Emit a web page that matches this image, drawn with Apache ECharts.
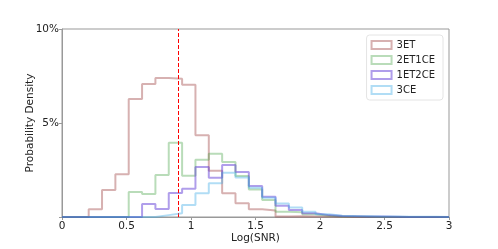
<!DOCTYPE html>
<html>
<head>
<meta charset="utf-8">
<script src="https://cdn.jsdelivr.net/npm/echarts@6/dist/echarts.min.js"></script>
<style>
html,body{margin:0;padding:0;background:#fff;}
#chart{width:498px;height:249px;}
</style>
</head>
<body>
<div id="chart"></div>
<script>
// Histogram: 29 bins spanning Log(SNR) 0..3; values are % probability density per bin
const binCount = 29;
const xMin = 0, xMax = 3;
const seriesNames = ['3ET', '2ET1CE', '1ET2CE', '3CE'];
const vals3ET =    [0,0,0.41,1.44,2.27,6.28,7.07,7.39,7.36,7.04,4.35,2.46,1.26,0.73,0.41,0.34,0.03,0.04,0.02,0.02,0.01,0,0,0,0,0,0,0,0];
const vals2ET1CE = [0,0,0,0,0,1.33,1.22,2.23,3.95,2.20,3.05,3.37,2.92,2.18,1.46,0.90,0.28,0.25,0.14,0.07,0.03,0.02,0.01,0,0,0,0,0,0];
const vals1ET2CE = [0,0,0,0,0,0,0.69,0.43,1.28,1.50,2.66,2.09,2.77,2.40,1.65,1.08,0.60,0.37,0.20,0.10,0.05,0.04,0.03,0.02,0.01,0,0,0,0];
const vals3CE =    [0,0,0,0,0,0,0,0.10,0.20,0.64,1.26,1.79,2.36,2.10,1.55,1.02,0.72,0.50,0.28,0.14,0.07,0.05,0.04,0.02,0.02,0.01,0.01,0.01,0];
const thresholdX = 0.9;
const yTicks = [0, 5, 10];

const colors = ['rgba(160,70,70,0.42)', 'rgba(44,150,44,0.33)', 'rgba(80,40,210,0.45)', 'rgba(60,170,230,0.4)'];
const allVals = [vals3ET, vals2ET1CE, vals1ET2CE, vals3CE];

function stepData(v) {
  const w = (xMax - xMin) / binCount;
  const d = v.map((y, i) => [xMin + i * w, y]);
  d.push([xMax, v[v.length - 1]]);
  return d;
}

const font = 'DejaVu Sans';
const chart = echarts.init(document.getElementById('chart'), null, {renderer: 'canvas'});
const series = seriesNames.map((name, k) => ({
  name: name,
  type: 'line',
  step: 'end',
  symbol: 'none',
  data: stepData(allVals[k]),
  lineStyle: {color: colors[k], width: 2},
  itemStyle: {color: colors[k]},
  z: 2 + k
}));
series[0].markLine = {
  silent: true,
  symbol: 'none',
  label: {show: false},
  lineStyle: {color: '#ff0000', type: [4, 2], width: 1},
  data: [{xAxis: thresholdX}]
};

chart.setOption({
  animation: false,
  grid: {left: 62, top: 29, right: 49, bottom: 32, show: true, borderColor: '#999', borderWidth: 1},
  legend: {
    orient: 'vertical',
    right: 55,
    top: 35,
    padding: [5, 8, 5, 4],
    itemGap: 5,
    itemWidth: 20,
    itemHeight: 8,
    backgroundColor: '#fff',
    borderColor: '#e4e4e4',
    borderWidth: 1,
    borderRadius: 3,
    textStyle: {fontFamily: font, fontSize: 10, color: '#222'},
    data: seriesNames.map((n, k) => ({
      name: n,
      icon: 'rect',
      itemStyle: {color: '#fff', borderColor: colors[k], borderWidth: 2}
    }))
  },
  xAxis: {
    type: 'value',
    min: xMin, max: xMax, interval: 0.5,
    name: 'Log(SNR)',
    nameLocation: 'middle',
    nameGap: 16,
    nameMoveOverlap: false,
    nameTextStyle: {fontFamily: font, fontSize: 10.5, color: '#222'},
    axisLine: {show: true, lineStyle: {color: '#999'}},
    axisTick: {show: true, length: 3, lineStyle: {color: '#999'}},
    axisLabel: {fontFamily: font, fontSize: 10.5, color: '#222', margin: 4},
    splitLine: {show: false}
  },
  yAxis: {
    type: 'value',
    min: 0, max: 10, interval: 5,
    name: 'Probability Density',
    nameLocation: 'middle',
    nameGap: 26,
    nameMoveOverlap: false,
    nameTextStyle: {fontFamily: font, fontSize: 10.5, color: '#222'},
    axisLine: {show: true, lineStyle: {color: '#999'}},
    axisTick: {show: true, length: 3, lineStyle: {color: '#999'}},
    axisLabel: {fontFamily: font, fontSize: 10.5, color: '#222', margin: 3,
      formatter: v => (v === yTicks[0] ? '' : v + '%')},
    splitLine: {show: false}
  },
  series: series
});
</script>
</body>
</html>
